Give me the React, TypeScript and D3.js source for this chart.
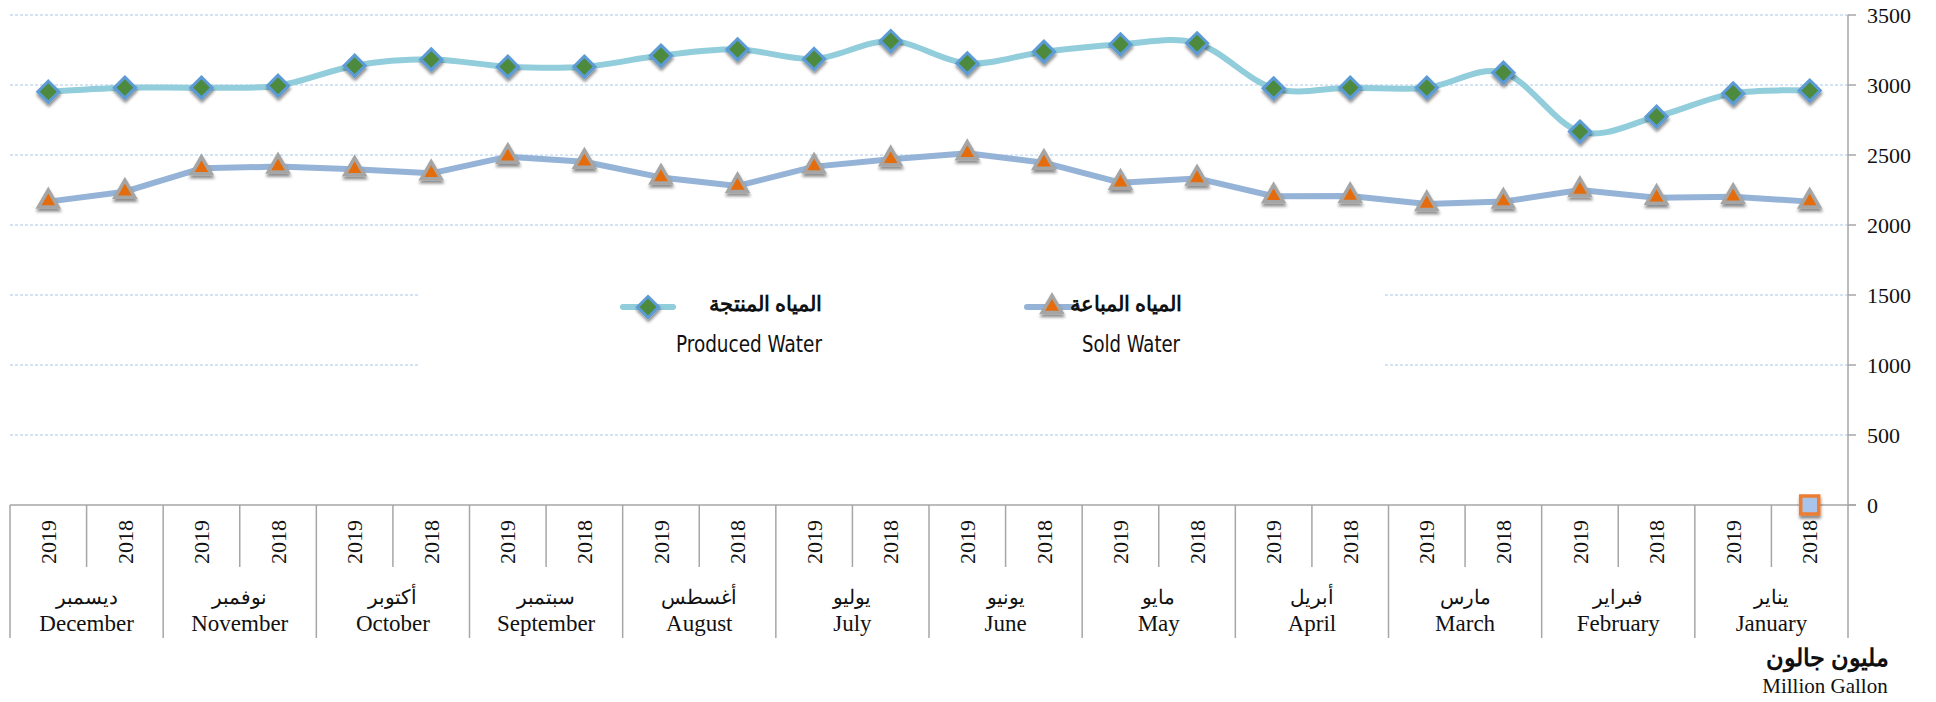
import React from "react";
import * as d3 from "d3";

// Calendar order data (January..December)
const monthsEn = ["January", "February", "March", "April", "May", "June", "July", "August", "September", "October", "November", "December"];
const monthsAr = ["يناير", "فبراير", "مارس", "أبريل", "مايو", "يونيو", "يوليو", "أغسطس", "سبتمبر", "أكتوبر", "نوفمبر", "ديسمبر"];
const years = ["2018", "2019"];

const produced2018 = [2960, 2774, 3088, 2981, 3298, 3238, 3314, 3255, 3131, 3183, 2995, 2981];
const produced2019 = [2940, 2667, 2981, 2976, 3290, 3155, 3186, 3210, 3131, 3138, 2981, 2952];
const sold2018 = [2167, 2195, 2167, 2207, 2333, 2445, 2469, 2279, 2452, 2369, 2417, 2238];
const sold2019 = [2202, 2250, 2150, 2205, 2302, 2512, 2417, 2340, 2488, 2398, 2405, 2167];
// stray third series: a single zero point at January 2018
const extraSeries = [{ month: "January", year: "2018", value: 0 }];

const yTicks = [0, 500, 1000, 1500, 2000, 2500, 3000, 3500];

const legendProducedAr = "المياه المنتجة";
const legendProducedEn = "Produced Water";
const legendSoldAr = "المياه المباعة";
const legendSoldEn = "Sold Water";
const unitAr = "مليون جالون";
const unitEn = "Million Gallon";

const W = 1936;
const H = 702;
const left = 10;
const right = 1848;
const top = 15;
const bottom = 505;

type Pt = { key: string; month: string; year: string; value: number };

export default function App() {
  // display order: right-to-left axis (January on the right, 2018 right of 2019)
  const monthOrder = [...monthsEn].reverse();
  const keys: string[] = [];
  monthOrder.forEach((m) => {
    [years[1], years[0]].forEach((y) => keys.push(m + "|" + y));
  });

  const x = d3.scaleBand<string>().domain(keys).range([left, right]).padding(0);
  const xg = d3.scaleBand<string>().domain(monthOrder).range([left, right]).padding(0);
  const y = d3.scaleLinear().domain([0, 3500]).range([bottom, top]);
  const cx = (k: string) => (x(k) as number) + x.bandwidth() / 2;

  const build = (a18: number[], a19: number[]): Pt[] =>
    keys.map((k) => {
      const [m, yr] = k.split("|");
      const i = monthsEn.indexOf(m);
      return { key: k, month: m, year: yr, value: yr === "2018" ? a18[i] : a19[i] };
    });
  const produced = build(produced2018, produced2019);
  const sold = build(sold2018, sold2019);

  const smooth = d3
    .line<Pt>()
    .x((d) => cx(d.key))
    .y((d) => y(d.value))
    .curve(d3.curveCatmullRom.alpha(0));
  const straight = d3
    .line<Pt>()
    .x((d) => cx(d.key))
    .y((d) => y(d.value));

  const diamond = (r: number) => `M0,${-r}L${r},0L0,${r}L${-r},0Z`;
  const triangle = "M0,-11.5L9.8,5.5L-9.8,5.5Z";

  const gridColor = "#A8C8E8";
  const axisColor = "#A6A6A6";
  const serif = "'Liberation Serif', 'Times New Roman', 'DejaVu Serif', serif";
  const narrow = "'Liberation Sans Narrow', 'Arial Narrow', 'DejaVu Sans Condensed', sans-serif";

  const Diamond = ({ tx, ty }: { tx: number; ty: number }) => (
    <path d={diamond(10.5)} transform={`translate(${tx},${ty})`} fill="#4E8A3E" stroke="#5B9BD5" strokeWidth={3} filter="url(#shadow)" />
  );
  const Triangle = ({ tx, ty }: { tx: number; ty: number }) => (
    <path d={triangle} transform={`translate(${tx},${ty})`} fill="#E46C0A" stroke="#A5A5A5" strokeWidth={3.5} strokeLinejoin="miter" filter="url(#shadow)" />
  );

  return (
    <svg width={W} height={H} style={{ position: "absolute", left: 0, top: 0, background: "#fff" }}>
      <defs>
        <filter id="shadow" x="-50%" y="-50%" width="200%" height="200%">
          <feDropShadow dx={0.5} dy={3} stdDeviation={1.6} floodColor="#000" floodOpacity={0.45} />
        </filter>
      </defs>

      {/* gridlines */}
      {yTicks
        .filter((t) => t > 0)
        .map((t) => (
          <line key={"g" + t} x1={left} x2={right} y1={y(t)} y2={y(t)} stroke={gridColor} strokeWidth={1} strokeDasharray="3,2" />
        ))}

      {/* legend box (covers gridlines) */}
      <rect x={418} y={280} width={1383 - 418} height={100} fill="#fff" />

      {/* axes */}
      <line x1={left} x2={right + 8} y1={bottom} y2={bottom} stroke={axisColor} strokeWidth={1.5} />
      <line x1={right} x2={right} y1={top} y2={638} stroke={axisColor} strokeWidth={1.5} />
      {yTicks.map((t) => (
        <g key={"t" + t}>
          <line x1={right} x2={right + 8} y1={y(t)} y2={y(t)} stroke={axisColor} strokeWidth={1.5} />
          <text x={1867} y={y(t)} dy="0.35em" fontFamily={serif} fontSize={22} fill="#111">
            {t}
          </text>
        </g>
      ))}

      {/* category separators */}
      {keys.map((k) => {
        const xx = x(k) as number;
        const isGroup = k.endsWith("2019");
        return <line key={"s" + k} x1={xx} x2={xx} y1={bottom} y2={isGroup ? 638 : 567} stroke={axisColor} strokeWidth={1.5} />;
      })}

      {/* year labels */}
      {keys.map((k) => {
        const yr = k.split("|")[1];
        return (
          <text key={"y" + k} transform={`translate(${cx(k)},542) rotate(-90)`} textAnchor="middle" dy="0.35em" fontFamily={serif} fontSize={22} fill="#111">
            {yr}
          </text>
        );
      })}

      {/* month labels */}
      {monthOrder.map((m) => {
        const c = (xg(m) as number) + xg.bandwidth() / 2;
        const i = monthsEn.indexOf(m);
        return (
          <g key={"m" + m}>
            <text x={c} y={604} textAnchor="middle" fontFamily={serif} fontSize={20} fill="#111">
              {monthsAr[i]}
            </text>
            <text x={c} y={631} textAnchor="middle" fontFamily={serif} fontSize={23} fill="#111">
              {m}
            </text>
          </g>
        );
      })}

      {/* unit */}
      <text x={1827} y={666} textAnchor="middle" fontFamily={serif} fontSize={24} fontWeight="bold" fill="#111">
        {unitAr}
      </text>
      <text x={1825} y={693} textAnchor="middle" fontFamily={serif} fontSize={21} fill="#111">
        {unitEn}
      </text>

      {/* series lines */}
      <path d={smooth(produced) || ""} fill="none" stroke="#92CDDC" strokeWidth={6} strokeLinejoin="round" strokeLinecap="round" />
      <path d={straight(sold) || ""} fill="none" stroke="#95B3D7" strokeWidth={6} strokeLinejoin="round" strokeLinecap="round" />

      {/* markers */}
      {produced.map((d) => (
        <Diamond key={"pd" + d.key} tx={cx(d.key)} ty={y(d.value)} />
      ))}
      {sold.map((d) => (
        <Triangle key={"st" + d.key} tx={cx(d.key)} ty={y(d.value)} />
      ))}
      {extraSeries.map((d) => (
        <rect
          key={"ex" + d.month}
          x={cx(d.month + "|" + d.year) - 9}
          y={y(d.value) - 9}
          width={18}
          height={18}
          fill="#A9C4EB"
          stroke="#ED7D31"
          strokeWidth={3.5}
          filter="url(#shadow)"
        />
      ))}

      {/* legend */}
      <g>
        <line x1={623} x2={673} y1={307} y2={307} stroke="#92CDDC" strokeWidth={6} strokeLinecap="round" />
        <Diamond tx={648} ty={307} />
        <text x={822} y={311} textAnchor="end" fontFamily={serif} fontSize={21} fontWeight="bold" fill="#111">
          {legendProducedAr}
        </text>
        <text x={822} y={352} textAnchor="end" fontFamily={narrow} fontSize={23} textLength={146} lengthAdjust="spacingAndGlyphs" fill="#111">
          {legendProducedEn}
        </text>

        <line x1={1027} x2={1077} y1={307} y2={307} stroke="#95B3D7" strokeWidth={6} strokeLinecap="round" />
        <Triangle tx={1052} ty={307} />
        <text x={1182} y={311} textAnchor="end" fontFamily={serif} fontSize={21} fontWeight="bold" fill="#111">
          {legendSoldAr}
        </text>
        <text x={1180} y={352} textAnchor="end" fontFamily={narrow} fontSize={23} textLength={98} lengthAdjust="spacingAndGlyphs" fill="#111">
          {legendSoldEn}
        </text>
      </g>
    </svg>
  );
}
